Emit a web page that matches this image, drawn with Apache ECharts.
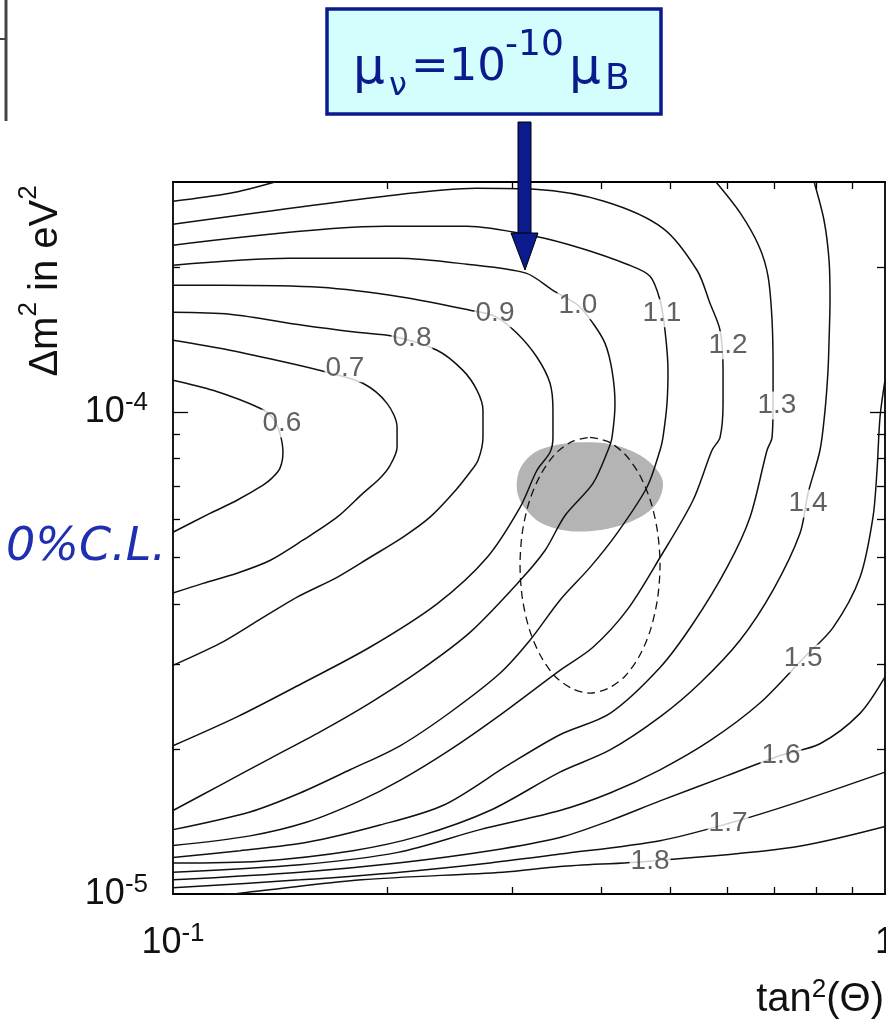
<!DOCTYPE html>
<html><head><meta charset="utf-8">
<script src="https://cdn.jsdelivr.net/npm/echarts@6/dist/echarts.min.js"></script>
<style>html,body{margin:0;padding:0;background:#fff}#c{width:886px;height:1019px}</style>
</head><body><div id="c"></div>
<script>
// ---- axis ticks / labels ----
const xTickValues = [0.2,0.3,0.4,0.5,0.6,0.7,0.8,0.9];
const xLabelValues = [0.1, 1];
const yTickValues = [2e-5,3e-5,4e-5,5e-5,6e-5,7e-5,8e-5,9e-5,2e-4];
const yMajorTicks = [1e-4];
const yLabelValues = [1e-5, 1e-4];

// ---- contour lines: [tan^2(theta), dm^2] ----
const c06 = [[0.1,1.164e-4],[0.1138,1.109e-4],[0.1325,1.018e-4],[0.1382,9.70e-5],[0.1413,9.03e-5],[0.1427,8.25e-5],[0.1413,7.64e-5],[0.1377,7.29e-5],[0.1338,7.05e-5],[0.123,6.56e-5],[0.1127,6.16e-5],[0.1,5.63e-5]];
const c07 = [[0.1,1.408e-4],[0.1202,1.343e-4],[0.146,1.262e-4],[0.1645,1.209e-4],[0.1848,1.147e-4],[0.1998,1.042e-4],[0.2064,9.3e-5],[0.2064,8.45e-5],[0.2018,7.75e-5],[0.1953,7.29e-5],[0.1848,6.78e-5],[0.17,6.05e-5],[0.1522,5.42e-5],[0.1368,4.92e-5],[0.123,4.63e-5],[0.1102,4.41e-5],[0.1,4.21e-5]];
const c08 = [[0.1,1.61e-4],[0.1202,1.595e-4],[0.1522,1.513e-4],[0.1813,1.463e-4],[0.2037,1.436e-4],[0.2349,1.343e-4],[0.2554,1.22e-4],[0.2673,1.109e-4],[0.2725,1.008e-4],[0.2725,8.86e-5],[0.2682,7.94e-5],[0.2613,7.5e-5],[0.2473,6.78e-5],[0.2296,6.05e-5],[0.2104,5.5e-5],[0.189,4.99e-5],[0.17,4.54e-5],[0.1494,4.13e-5],[0.1296,3.64e-5],[0.1164,3.31e-5],[0.1,2.98e-5]];
const c09 = [[0.1,1.832e-4],[0.1164,1.832e-4],[0.1609,1.814e-4],[0.2104,1.73e-4],[0.2613,1.626e-4],[0.2833,1.579e-4],[0.3042,1.457e-4],[0.3245,1.299e-4],[0.3385,1.147e-4],[0.3417,1.008e-4],[0.3417,8.86e-5],[0.3385,8.25e-5],[0.3245,7.57e-5],[0.3072,6.34e-5],[0.2761,4.99e-5],[0.2349,4.0e-5],[0.189,3.25e-5],[0.1522,2.74e-5],[0.123,2.33e-5],[0.1,2.03e-5]];
const c10 = [[0.1,2.016e-4],[0.1455,2.084e-4],[0.207,2.084e-4],[0.2588,2.025e-4],[0.3131,1.941e-4],[0.3417,1.788e-4],[0.3705,1.665e-4],[0.3889,1.528e-4],[0.4044,1.388e-4],[0.4136,1.22e-4],[0.4176,1.042e-4],[0.4136,8.86e-5],[0.4083,8.33e-5],[0.3889,7.11e-5],[0.3553,6.1e-5],[0.333,5.16e-5],[0.3072,4.47e-5],[0.2613,3.49e-5],[0.2223,2.91e-5],[0.189,2.49e-5],[0.1609,2.17e-5],[0.1368,1.91e-5],[0.1164,1.68e-5],[0.1,1.49e-5]];
const c11 = [[0.1,2.218e-4],[0.1985,2.428e-4],[0.2588,2.428e-4],[0.3224,2.315e-4],[0.3741,2.186e-4],[0.4341,2.025e-4],[0.4677,1.913e-4],[0.4831,1.705e-4],[0.4909,1.477e-4],[0.4957,1.22e-4],[0.4941,1.042e-4],[0.4877,8.86e-5],[0.4831,8.33e-5],[0.4631,6.98e-5],[0.4203,5.6e-5],[0.3852,4.76e-5],[0.3495,4.07e-5],[0.3172,3.36e-5],[0.2879,2.87e-5],[0.2449,2.38e-5],[0.2084,2.03e-5],[0.1773,1.81e-5],[0.1508,1.62e-5],[0.1283,1.48e-5],[0.1,1.36e-5]];
const c12 = [[0.1,2.451e-4],[0.1985,2.802e-4],[0.2664,2.911e-4],[0.3224,2.897e-4],[0.4031,2.736e-4],[0.4877,2.405e-4],[0.5445,1.968e-4],[0.5678,1.681e-4],[0.5866,1.477e-4],[0.5923,1.22e-4],[0.5923,1.042e-4],[0.5866,8.86e-5],[0.5715,8.33e-5],[0.5375,6.56e-5],[0.4831,4.99e-5],[0.4341,3.88e-5],[0.3889,3.25e-5],[0.3495,2.91e-5],[0.2879,2.35e-5],[0.2449,1.99e-5],[0.2084,1.72e-5],[0.183,1.56e-5],[0.1543,1.41e-5],[0.1283,1.32e-5],[0.1,1.26e-5]];
const c13a = [[0.1,2.736e-4],[0.1202,2.842e-4],[0.1391,3.0e-4]];
const c13b = [[0.5789,3.0e-4],[0.6257,2.591e-4],[0.6653,2.207e-4],[0.685,1.913e-4],[0.694,1.55e-4],[0.6963,1.22e-4],[0.6963,1.042e-4],[0.694,8.86e-5],[0.6828,8.33e-5],[0.6463,6.05e-5],[0.6,4.76e-5],[0.5375,3.64e-5],[0.4831,2.95e-5],[0.411,2.37e-5],[0.3495,2.14e-5],[0.2954,1.85e-5],[0.2402,1.53e-5],[0.1953,1.39e-5],[0.1543,1.28e-5],[0.1242,1.23e-5],[0.1,1.19e-5]];
const c14 = [[0.7951,3.0e-4],[0.821,2.499e-4],[0.8345,2.064e-4],[0.8371,1.705e-4],[0.8345,1.408e-4],[0.8317,1.22e-4],[0.8237,1.008e-4],[0.8104,8.33e-5],[0.7796,6.78e-5],[0.7597,5.6e-5],[0.6963,4.27e-5],[0.6257,3.36e-5],[0.5499,2.74e-5],[0.4831,2.33e-5],[0.411,1.99e-5],[0.3495,1.79e-5],[0.2787,1.49e-5],[0.2223,1.32e-5],[0.1789,1.23e-5],[0.1325,1.17e-5],[0.1,1.16e-5]];
const c15 = [[1.0,1.164e-4],[0.984,9.75e-5],[0.9745,7.57e-5],[0.9619,6.05e-5],[0.9224,4.54e-5],[0.8453,3.57e-5],[0.7673,3.08e-5],[0.6674,2.49e-5],[0.5678,2.08e-5],[0.4831,1.81e-5],[0.411,1.62e-5],[0.3495,1.49e-5],[0.2699,1.36e-5],[0.207,1.22e-5],[0.1508,1.15e-5],[0.1,1.11e-5]];
const c16 = [[1.0,2.82e-5],[0.9224,2.37e-5],[0.8104,2.05e-5],[0.7144,1.94e-5],[0.6,1.76e-5],[0.4831,1.56e-5],[0.411,1.42e-5],[0.3495,1.31e-5],[0.2787,1.23e-5],[0.207,1.16e-5],[0.1508,1.11e-5],[0.1,1.07e-5]];
const c17 = [[1.0,1.79e-5],[0.743,1.54e-5],[0.602,1.4e-5],[0.4831,1.29e-5],[0.3495,1.21e-5],[0.2787,1.16e-5],[0.2084,1.11e-5],[0.1508,1.07e-5],[0.1,1.03e-5]];
const c18 = [[1.0,1.38e-5],[0.743,1.25e-5],[0.4677,1.17e-5],[0.3495,1.14e-5],[0.2907,1.11e-5],[0.184,1.07e-5],[0.1234,1.003e-5],[0.1183,1.0e-5]];

// ---- contour level labels: [x, y, text] ----
const contourLabels = [
  [0.1422,9.47e-5,'0.6'],[0.1744,1.232e-4,'0.7'],[0.2166,1.422e-4,'0.8'],[0.2833,1.602e-4,'0.9'],
  [0.3705,1.665e-4,'1.0'],[0.4861,1.602e-4,'1.1'],[0.602,1.375e-4,'1.2'],[0.705,1.032e-4,'1.3'],
  [0.7796,6.46e-5,'1.4'],[0.7673,3.08e-5,'1.5'],[0.7144,1.94e-5,'1.6'],[0.602,1.40e-5,'1.7'],[0.4677,1.17e-5,'1.8']
];

// ---- allowed regions ----
const grayRegion = [[0.3042,7.22e-5],[0.3091,7.75e-5],[0.3224,8.25e-5],[0.3439,8.53e-5],[0.3729,8.65e-5],[0.4044,8.61e-5],[0.4385,8.33e-5],[0.4677,7.86e-5],[0.4861,7.29e-5],[0.4861,6.82e-5],[0.4753,6.4e-5],[0.4528,6.05e-5],[0.4176,5.77e-5],[0.3852,5.66e-5],[0.3553,5.68e-5],[0.3277,5.9e-5],[0.3122,6.31e-5],[0.3052,6.72e-5]];
const dashedRegion = [[0.3852,8.86e-5],[0.4084,8.68e-5],[0.4313,8.17e-5],[0.4521,7.41e-5],[0.4686,6.53e-5],[0.4793,5.63e-5],[0.4831,4.81e-5],[0.4793,4.11e-5],[0.4686,3.54e-5],[0.4521,3.12e-5],[0.4313,2.83e-5],[0.4084,2.67e-5],[0.3852,2.61e-5],[0.3633,2.67e-5],[0.3439,2.83e-5],[0.3283,3.12e-5],[0.3166,3.54e-5],[0.3095,4.11e-5],[0.3072,4.81e-5],[0.3095,5.63e-5],[0.3166,6.53e-5],[0.3283,7.41e-5],[0.3439,8.17e-5],[0.3633,8.68e-5],[0.3852,8.86e-5]];

const contourLines = [c06,c07,c08,c09,c10,c11,c12,c13a,c13b,c14,c15,c16,c17,c18];

const FONT = 'Liberation Sans, Arial, Helvetica, sans-serif';
const NAVY = '#0b1a8c';

function expLabel(v){
  const e = Math.round(Math.log10(v));
  return e === 0 ? '{b|1}' : '{b|10}{s|' + e + '}';
}
const labelRich = {
  b: {fontSize: 36, fontFamily: FONT, color: '#111', lineHeight: 44},
  s: {fontSize: 26, fontFamily: FONT, color: '#111', lineHeight: 12, verticalAlign: 'top'}
};

function logAxis(pos, opts){
  return Object.assign({
    type: 'log', logBase: 10, position: pos,
    axisLine: {show: true, onZero: false, lineStyle: {color: '#000', width: 1.8}},
    axisLabel: {show: false},
    splitLine: {show: false},
    minorTick: {show: false},
    minorSplitLine: {show: false}
  }, opts);
}
const xCommon = {min: 0.1, max: 1};
const yCommon = {min: 1e-5, max: 3e-4};
const tickStyle = {color: '#000', width: 1.3};

const series = [];
series.push({
  type: 'custom', silent: true, z: 1, clip: true,
  data: grayRegion,
  renderItem: function(params, api){
    if (params.dataIndex !== 0) return null;
    return {type: 'polygon', shape: {points: grayRegion.map(p => api.coord(p)), smooth: 0.35},
            style: {fill: '#b4b4b4'}};
  }
});
contourLines.forEach(function(d){
  series.push({type: 'line', data: d, symbol: 'none', showSymbol: false, smooth: 0.3, silent: true,
    z: 3, clip: true, lineStyle: {color: '#111', width: 1.5}});
});
series.push({type: 'line', data: dashedRegion, symbol: 'none', smooth: 0.3, silent: true, z: 3,
  lineStyle: {color: '#111', width: 1.3, type: [8, 5]}});
series.push({type: 'scatter', data: contourLabels, symbolSize: 1, silent: true, z: 5,
  itemStyle: {color: 'rgba(0,0,0,0)'},
  label: {show: true, position: 'inside', formatter: p => p.value[2], fontSize: 28, fontFamily: FONT,
    color: '#3a3a3a', backgroundColor: '#fff', padding: [0, 1]}});

const chart = echarts.init(document.getElementById('c'), null, {renderer: 'canvas'});
chart.setOption({
  animation: false,
  backgroundColor: '#fff',
  grid: {left: 173, top: 182, right: 1, bottom: 125, containLabel: false, outerBoundsMode: 'none'},
  xAxis: [
    logAxis('bottom', Object.assign({}, xCommon, {
      axisTick: {show: true, inside: true, length: 7, customValues: xTickValues, lineStyle: tickStyle},
      axisLabel: {show: true, customValues: xLabelValues, formatter: expLabel, rich: labelRich, margin: 27}
    })),
    logAxis('top', Object.assign({}, xCommon, {
      axisTick: {show: true, inside: true, length: 7, customValues: xTickValues, lineStyle: tickStyle}
    }))
  ],
  yAxis: [
    logAxis('left', Object.assign({}, yCommon, {
      axisTick: {show: true, inside: true, length: 7, customValues: yTickValues, lineStyle: tickStyle},
      axisLabel: {show: true, customValues: yLabelValues, formatter: expLabel, rich: labelRich, margin: 25}
    })),
    logAxis('right', Object.assign({}, yCommon, {
      axisTick: {show: true, inside: true, length: 8, customValues: yTickValues, lineStyle: tickStyle}
    })),
    logAxis('left', Object.assign({}, yCommon, {
      axisLine: {show: false},
      axisTick: {show: true, inside: true, length: 15, customValues: yMajorTicks, lineStyle: tickStyle}
    })),
    logAxis('right', Object.assign({}, yCommon, {
      axisLine: {show: false},
      axisTick: {show: true, inside: true, length: 15, customValues: yMajorTicks, lineStyle: tickStyle}
    }))
  ],
  series: series,
  graphic: [
    // fragment of neighbouring panel (top-left)
    {type: 'line', z: 100, shape: {x1: 6, y1: 0, x2: 6, y2: 121}, style: {stroke: '#444', lineWidth: 3}},
    {type: 'line', z: 100, shape: {x1: 0, y1: 39, x2: 6, y2: 39}, style: {stroke: '#444', lineWidth: 2}},
    // annotation box
    {type: 'rect', z: 100, shape: {x: 327, y: 9, width: 334, height: 105}, style: {fill: '#d4fefe', stroke: NAVY, lineWidth: 3.5}},
    {type: 'text', z: 101, x: 353, y: 70, style: {text: 'μ', fontSize: 50, fontFamily: 'DejaVu Sans', fill: NAVY, align: 'left', verticalAlign: 'middle'}},
    {type: 'text', z: 101, x: 389, y: 87, style: {text: 'ν', fontSize: 32, fontFamily: 'DejaVu Sans', fill: NAVY, align: 'left', verticalAlign: 'middle'}},
    {type: 'text', z: 101, x: 411, y: 68, style: {text: '=10', fontSize: 45, fontFamily: 'DejaVu Sans', fill: NAVY, align: 'left', verticalAlign: 'middle'}},
    {type: 'text', z: 101, x: 505, y: 46, style: {text: '-10', fontSize: 36, fontFamily: 'DejaVu Sans', fill: NAVY, align: 'left', verticalAlign: 'middle'}},
    {type: 'text', z: 101, x: 569, y: 70, style: {text: 'μ', fontSize: 50, fontFamily: 'DejaVu Sans', fill: NAVY, align: 'left', verticalAlign: 'middle'}},
    {type: 'text', z: 101, x: 605, y: 80, style: {text: 'B', fontSize: 36, fontFamily: 'DejaVu Sans', fill: NAVY, align: 'left', verticalAlign: 'middle'}},
    // arrow
    {type: 'rect', z: 100, shape: {x: 518, y: 122, width: 13, height: 112}, style: {fill: NAVY, stroke: '#000', lineWidth: 1}},
    {type: 'polygon', z: 100, shape: {points: [[511, 233], [538, 233], [525, 270]]}, style: {fill: NAVY, stroke: '#000', lineWidth: 1}},
    // cut-off side text
    {type: 'text', z: 100, x: 166, y: 548, style: {text: '0%C.L.', fontSize: 46, fontStyle: 'italic', fontFamily: 'DejaVu Sans', fill: '#1f2fb0', align: 'right', verticalAlign: 'middle'}},
    // axis titles
    {type: 'text', z: 100, x: 46, y: 281, rotation: Math.PI / 2, style: {
      text: '{n|Δm}{s|2}{n| in eV}{s|2}', align: 'center', verticalAlign: 'middle',
      rich: {n: {fontSize: 40, fontFamily: FONT, fill: '#111', lineHeight: 60}, s: {fontSize: 26, fontFamily: FONT, fill: '#111', lineHeight: 8, verticalAlign: 'top'}}}},
    {type: 'text', z: 100, x: 884, y: 1000, style: {
      text: '{n|tan}{s|2}{n|(Θ)}', align: 'right', verticalAlign: 'middle',
      rich: {n: {fontSize: 40, fontFamily: FONT, fill: '#111', lineHeight: 46}, s: {fontSize: 26, fontFamily: FONT, fill: '#111', lineHeight: 14, verticalAlign: 'top'}}}}
  ]
});
</script></body></html>
